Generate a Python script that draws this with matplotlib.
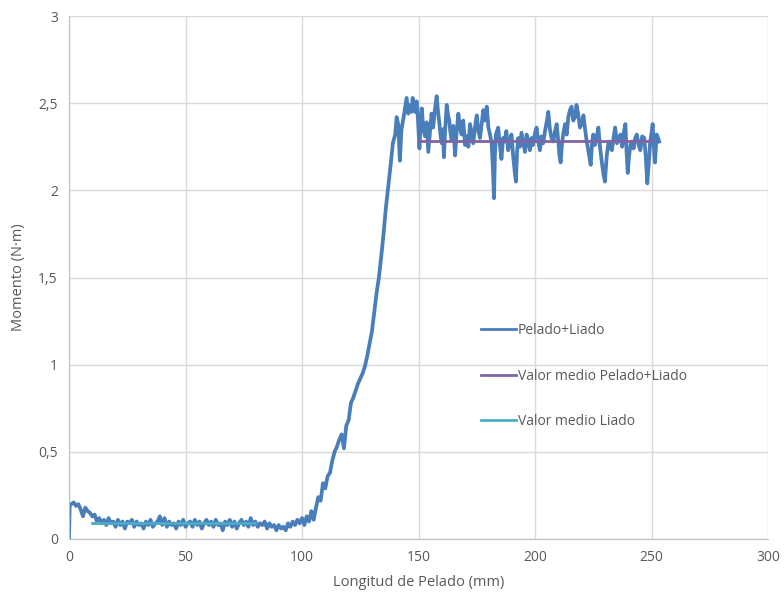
import matplotlib.pyplot as plt
from matplotlib.ticker import FuncFormatter

# Ensayo Pelado+Liado: longitud (mm) frente a momento (N·m)
longitud = [0, 0.3, 1, 2, 3, 4, 5, 6, 7, 8, 9, 10, 11, 12, 13, 14, 15, 16, 17, 18, 19,
            20, 21, 22, 23, 24, 25, 26, 27, 28, 29, 30, 31, 32, 33, 34, 35, 36, 37, 38, 39,
            40, 41, 42, 43, 44, 45, 46, 47, 48, 49, 50, 51, 52, 53, 54, 55, 56, 57, 58, 59,
            60, 61, 62, 63, 64, 65, 66, 67, 68, 69, 70, 71, 72, 73, 74, 75, 76, 77, 78, 79,
            80, 81, 82, 83, 84, 85, 86, 87, 88, 89, 90, 91, 92, 93, 94, 95, 96, 97, 98, 99,
            100, 101, 102, 103, 104, 105, 106, 107, 108, 109, 110, 111, 112, 113, 114, 115,
            116, 117, 118, 119, 120, 121, 122, 123, 124, 125, 126, 127, 128, 129, 130, 131,
            132, 133, 134, 135, 136, 137, 138, 139, 140, 140.6, 141.3, 142, 142.7, 143.5,
            144.2, 144.9, 145.6, 146.3, 147, 147.5, 148, 148.5, 149.2, 149.8, 150.4, 150.9,
            151.4, 152.1, 152.8, 153.5, 154.2, 154.9, 155.6, 156.3, 157, 157.8, 158.4, 159,
            159.5, 160, 160.5, 160.9, 161.5, 162.1, 162.7, 163.2, 163.7, 164.2, 164.9, 165.7,
            166.4, 167.1, 167.8, 168.5, 169.2, 170, 170.7, 171.4, 172.1, 172.8, 173.5, 174.2,
            175, 175.7, 176.4, 177.1, 177.8, 178.5, 179.3, 180, 180.7, 181.4, 182, 182.4,
            182.8, 183.2, 184.2, 184.9, 185.6, 186.3, 187, 187.7, 188.5, 189.2, 189.9, 190.6,
            191.2, 191.8, 192.3, 192.8, 193.5, 194.2, 195, 195.7, 196.4, 197.1, 197.8, 198.5,
            199.2, 200, 200.7, 201.4, 202.1, 202.8, 203.5, 204.3, 205, 205.7, 206.4, 207.1,
            207.9, 208.6, 209.3, 210, 210.5, 211, 211.6, 212.2, 212.9, 213.6, 214.3, 215,
            215.7, 216.4, 217.2, 217.8, 218.4, 219.3, 220, 220.8, 221.5, 222.2, 223, 223.9,
            224.5, 225, 225.7, 226.4, 227.2, 227.9, 228.6, 229.3, 230, 230.8, 231.6, 232.3,
            233, 233.7, 234.4, 235.2, 236, 236.7, 237.4, 238.1, 238.8, 239.3, 239.8, 240.4,
            241, 241.6, 242.3, 243, 243.7, 244.5, 245.2, 246, 246.9, 247.5, 248.2, 248.8,
            249.4, 250, 250.5, 251, 251.5, 252.2, 252.8, 253.3]
momento = [0.0, 0.19, 0.20, 0.21, 0.19, 0.20, 0.17, 0.13, 0.18, 0.16, 0.15, 0.13, 0.14,
           0.10, 0.12, 0.09, 0.11, 0.08, 0.12, 0.09, 0.10, 0.07, 0.11, 0.08, 0.10, 0.06,
           0.10, 0.09, 0.11, 0.07, 0.10, 0.08, 0.09, 0.06, 0.10, 0.08, 0.11, 0.07, 0.09,
           0.10, 0.13, 0.08, 0.12, 0.07, 0.10, 0.08, 0.09, 0.06, 0.10, 0.08, 0.11, 0.07,
           0.09, 0.10, 0.07, 0.11, 0.08, 0.10, 0.06, 0.09, 0.11, 0.08, 0.10, 0.07, 0.11,
           0.08, 0.09, 0.05, 0.10, 0.08, 0.11, 0.07, 0.10, 0.06, 0.09, 0.11, 0.08, 0.10,
           0.07, 0.12, 0.08, 0.10, 0.07, 0.09, 0.08, 0.10, 0.06, 0.09, 0.07, 0.08, 0.05,
           0.08, 0.06, 0.07, 0.05, 0.09, 0.07, 0.10, 0.08, 0.11, 0.09, 0.12, 0.08, 0.13,
           0.10, 0.16, 0.11, 0.18, 0.24, 0.22, 0.32, 0.29, 0.36, 0.38, 0.45, 0.50, 0.53,
           0.57, 0.60, 0.52, 0.65, 0.68, 0.78, 0.81, 0.85, 0.89, 0.92, 0.95, 0.99, 1.05,
           1.12, 1.19, 1.30, 1.41, 1.50, 1.62, 1.75, 1.90, 2.02, 2.14, 2.27, 2.32, 2.42,
           2.38, 2.17, 2.35, 2.41, 2.47, 2.53, 2.44, 2.49, 2.45, 2.53, 2.47, 2.45, 2.51,
           2.40, 2.24, 2.38, 2.47, 2.35, 2.31, 2.39, 2.22, 2.33, 2.44, 2.36, 2.46, 2.54,
           2.45, 2.38, 2.31, 2.27, 2.35, 2.19, 2.36, 2.49, 2.43, 2.40, 2.33, 2.29, 2.37,
           2.20, 2.34, 2.44, 2.36, 2.32, 2.40, 2.26, 2.31, 2.25, 2.38, 2.33, 2.27, 2.36,
           2.43, 2.34, 2.30, 2.38, 2.46, 2.40, 2.48, 2.36, 2.32, 2.27, 2.10, 1.955, 2.20,
           2.32, 2.36, 2.26, 2.18, 2.30, 2.28, 2.34, 2.23, 2.28, 2.32, 2.20, 2.12, 2.05,
           2.22, 2.30, 2.25, 2.33, 2.27, 2.22, 2.32, 2.28, 2.23, 2.30, 2.26, 2.33, 2.36,
           2.28, 2.23, 2.31, 2.27, 2.34, 2.39, 2.45, 2.35, 2.30, 2.28, 2.34, 2.38, 2.28,
           2.20, 2.16, 2.27, 2.33, 2.38, 2.32, 2.42, 2.46, 2.48, 2.40, 2.42, 2.49, 2.45,
           2.36, 2.38, 2.43, 2.35, 2.28, 2.22, 2.146, 2.27, 2.32, 2.26, 2.30, 2.36, 2.25,
           2.17, 2.10, 2.05, 2.20, 2.28, 2.25, 2.23, 2.30, 2.36, 2.27, 2.30, 2.32, 2.25,
           2.33, 2.38, 2.22, 2.10, 2.20, 2.26, 2.28, 2.24, 2.30, 2.32, 2.26, 2.23, 2.31,
           2.30, 2.20, 2.04, 2.15, 2.27, 2.33, 2.38, 2.25, 2.16, 2.32, 2.30, 2.28]

# valores medios
medio_pelado_x = [150, 250]
medio_pelado_y = [2.285, 2.285]
medio_liado_x = [10, 80]
medio_liado_y = [0.092, 0.092]

plt.rcParams['font.family'] = ['Open Sans', 'DejaVu Sans']
gris = '#595959'

fig = plt.figure(figsize=(7.84, 5.99), dpi=100)
ax = fig.add_axes([69/784, 1 - 539/599, (768 - 69)/784, (539 - 16)/599])

ax.plot(longitud, momento, color='#4a7ebb', lw=2.7, label='Pelado+Liado')
ax.plot(medio_pelado_x, medio_pelado_y, color='#8064a2', lw=2, label='Valor medio Pelado+Liado')
ax.plot(medio_liado_x, medio_liado_y, color='#4bacc6', lw=2, label='Valor medio Liado')

ax.set_xlim(0, 300)
ax.set_ylim(0, 3)
ax.set_xticks(range(0, 301, 50))
ax.set_yticks([0, 0.5, 1, 1.5, 2, 2.5, 3])
ax.yaxis.set_major_formatter(FuncFormatter(lambda v, p: ('%g' % v).replace('.', ',')))
ax.grid(True, color='#d9d9d9', lw=1)
ax.set_axisbelow(True)
for s in ['top', 'right']:
    ax.spines[s].set_visible(False)
for s in ['left', 'bottom']:
    ax.spines[s].set_color('#bfbfbf')
ax.tick_params(length=0, labelsize=10, colors=gris, pad=8)

ax.set_xlabel('Longitud de Pelado (mm)', fontsize=10.5, color=gris, labelpad=7)
ax.set_ylabel('Momento (N·m)', fontsize=10.5, color=gris, labelpad=9)

leg = ax.legend(loc='upper left', bbox_to_anchor=(474/784, 1 - 316/599),
                bbox_transform=fig.transFigure, frameon=False, fontsize=10,
                labelcolor=gris, handlelength=2.5, handletextpad=0.15,
                labelspacing=2.2, borderpad=0)
for h in leg.get_lines():
    h.set_linewidth(2)

fig.savefig('out.png', dpi=100)
